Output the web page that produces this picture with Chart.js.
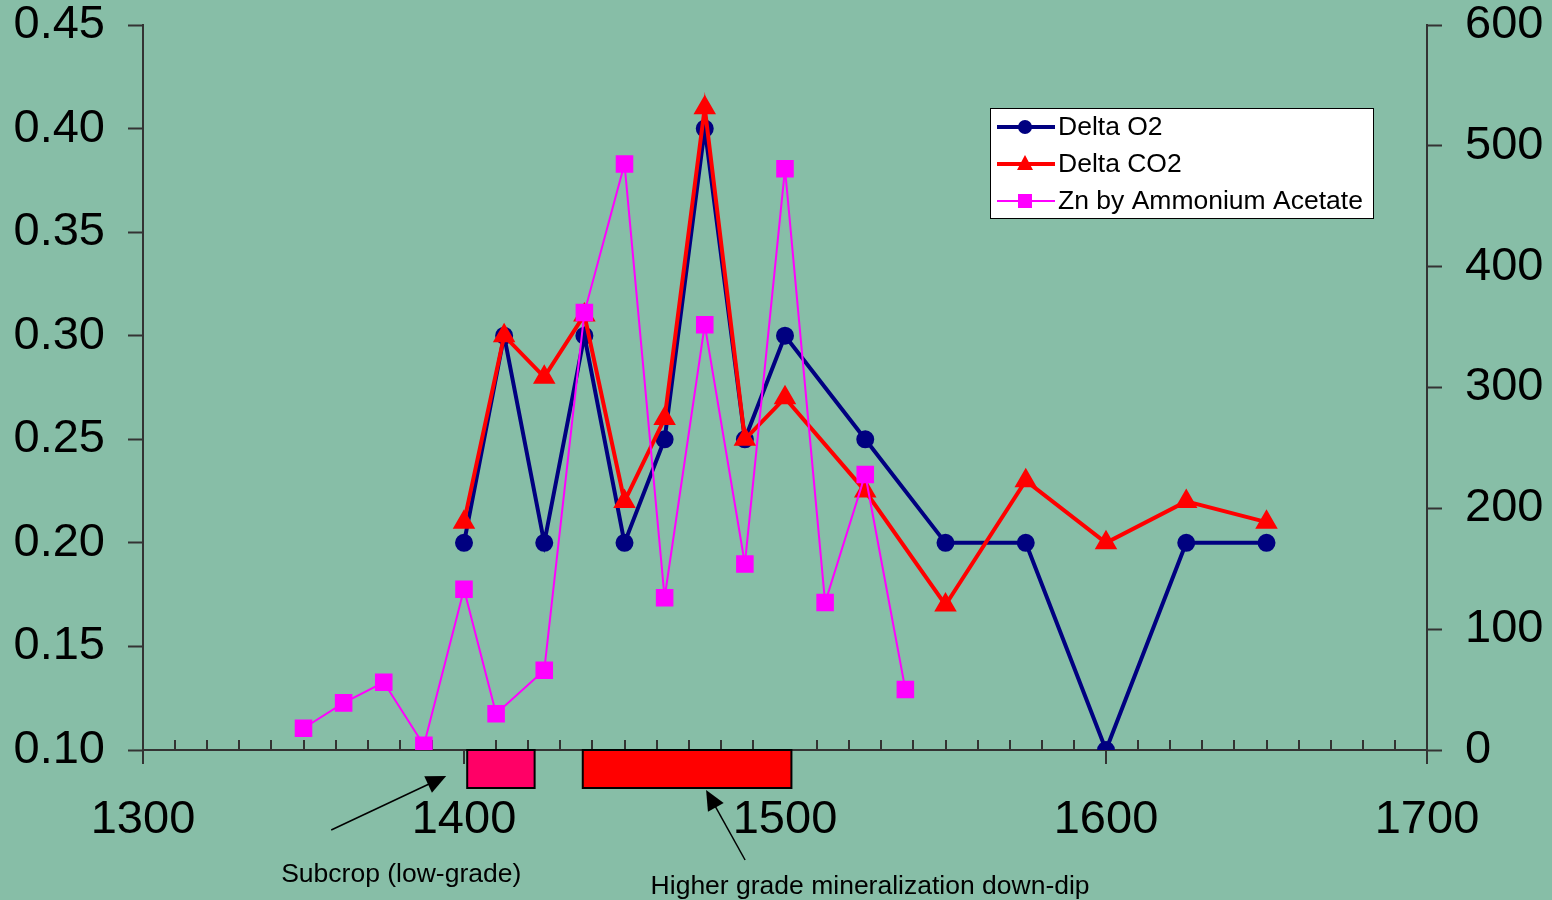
<!DOCTYPE html>
<html>
<head>
<meta charset="utf-8">
<script src="https://cdn.jsdelivr.net/npm/chart.js@4.4.1/dist/chart.umd.min.js"></script>
<style>
  html, body { margin: 0; padding: 0; background: #87bea7; }
  canvas { display: block; }
</style>
</head>
<body>
<canvas id="chart" width="1552" height="900"></canvas>
<script>
// sample depths and readings
const depthGas = [1400, 1412.5, 1425, 1437.5, 1450, 1462.5, 1475, 1487.5, 1500, 1525, 1550, 1575, 1600, 1625, 1650]
const deltaO2 = [0.20, 0.30, 0.20, 0.30, 0.20, 0.25, 0.40, 0.25, 0.30, 0.25, 0.20, 0.20, 0.10, 0.20, 0.20]
const deltaCO2 = [0.21, 0.30, 0.28, 0.31, 0.22, 0.26, 0.41, 0.25, 0.27, 0.225, 0.17, 0.23, 0.20, 0.22, 0.21]

const depthZn = [1350, 1362.5, 1375, 1387.5, 1400, 1410, 1425, 1437.5, 1450, 1462.5, 1475, 1487.5, 1500, 1512.5, 1525, 1537.5]
const znAmmAcetate = [18, 39, 56, 4, 133, 30, 66, 362, 485, 126, 352, 154, 481, 122, 228, 50]

// zones along the traverse (x ranges) and their notes
const zoneNames = ["Subcrop (low-grade)", "Higher grade mineralization down-dip"]
const zoneStart = [1401, 1437]
const zoneEnd = [1422, 1502]

const AXIS = "#333333"
const FONT = "'Liberation Sans', Arial, sans-serif"

const pts = (xs, ys) => xs.map((x, i) => ({ x, y: ys[i] }))

const xTicksPlugin = {
  id: "xTicks",
  beforeDatasetsDraw(chart) {
    const { ctx } = chart
    const x = chart.scales.x
    const bottom = chart.chartArea.bottom
    ctx.save()
    ctx.strokeStyle = AXIS
    ctx.lineWidth = 2
    x.ticks.forEach(t => {
      const px = Math.round(x.getPixelForValue(t.value))
      ctx.beginPath()
      if (t.value % 100 === 0) {
        ctx.moveTo(px, bottom)
        ctx.lineTo(px, bottom + 14)
      } else {
        ctx.moveTo(px, bottom)
        ctx.lineTo(px, bottom - 10)
      }
      ctx.stroke()
    })
    ctx.restore()
  }
}

function arrow(ctx, x1, y1, x2, y2) {
  const a = Math.atan2(y2 - y1, x2 - x1)
  const len = 20, half = 9
  ctx.beginPath()
  ctx.moveTo(x1, y1)
  ctx.lineTo(x2 - Math.cos(a) * len * 0.8, y2 - Math.sin(a) * len * 0.8)
  ctx.stroke()
  ctx.beginPath()
  ctx.moveTo(x2, y2)
  ctx.lineTo(x2 - Math.cos(a) * len - Math.sin(a) * half, y2 - Math.sin(a) * len + Math.cos(a) * half)
  ctx.lineTo(x2 - Math.cos(a) * len + Math.sin(a) * half, y2 - Math.sin(a) * len - Math.cos(a) * half)
  ctx.closePath()
  ctx.fill()
}

const zonesPlugin = {
  id: "zones",
  afterDraw(chart) {
    const { ctx } = chart
    const x = chart.scales.x
    const bottom = chart.chartArea.bottom
    const fills = ["#ff0066", "#ff0000"]
    ctx.save()
    zoneStart.forEach((s, i) => {
      const l = x.getPixelForValue(s), r = x.getPixelForValue(zoneEnd[i])
      ctx.fillStyle = fills[i]
      ctx.fillRect(l, bottom, r - l, 38)
      ctx.strokeStyle = "#000"
      ctx.lineWidth = 2
      ctx.strokeRect(l, bottom, r - l, 38)
    })
    ctx.fillStyle = "#000"
    ctx.strokeStyle = "#000"
    ctx.lineWidth = 1.5
    // arrows from each note up to its zone
    const s0 = x.getPixelForValue(zoneStart[0])
    arrow(ctx, s0 - 136, bottom + 80, s0 - 21, bottom + 26)
    const s1 = x.getPixelForValue((zoneStart[1] + zoneEnd[1]) / 2)
    arrow(ctx, s1 + 58, bottom + 110, s1 + 19, bottom + 40)
    ctx.font = "26.5px " + FONT
    ctx.textAlign = "center"
    ctx.textBaseline = "middle"
    ctx.fillText(zoneNames[0], s0 - 66, bottom + 125)
    ctx.fillText(zoneNames[1], s1 + 183, bottom + 137)
    ctx.restore()
  }
}

const legendPlugin = {
  id: "boxLegend",
  afterDraw(chart) {
    const { ctx } = chart
    const left = 990, top = 108, w = 383, h = 110
    ctx.save()
    ctx.fillStyle = "#fff"
    ctx.fillRect(left, top, w, h)
    ctx.strokeStyle = "#000"
    ctx.lineWidth = 1
    ctx.strokeRect(left + 0.5, top + 0.5, w, h)
    ctx.font = "26.5px " + FONT
    ctx.textBaseline = "middle"
    chart.data.datasets.forEach((ds, i) => {
      const y = top + 19 + i * 37
      ctx.strokeStyle = ds.borderColor
      ctx.lineWidth = ds.borderWidth
      ctx.beginPath()
      ctx.moveTo(left + 7, y)
      ctx.lineTo(left + 65, y)
      ctx.stroke()
      ctx.fillStyle = ds.borderColor
      const cx = left + 35
      if (ds.pointStyle === "circle") {
        ctx.beginPath()
        ctx.arc(cx, y, 7, 0, Math.PI * 2)
        ctx.fill()
      } else if (ds.pointStyle === "triangle") {
        ctx.beginPath()
        ctx.moveTo(cx, y - 9)
        ctx.lineTo(cx + 8, y + 6)
        ctx.lineTo(cx - 8, y + 6)
        ctx.closePath()
        ctx.fill()
      } else {
        ctx.fillRect(cx - 7, y - 7, 14, 14)
      }
      ctx.fillStyle = "#000"
      ctx.fillText(ds.label, left + 68, y + 1)
    })
    ctx.restore()
  }
}

// fixed axis widths, and only 25px headroom above the plot
const fitY = w => s => {
  s.width = w
  s.paddingTop = 25
  s.paddingBottom = 0
}

new Chart(document.getElementById("chart"), {
  type: "line",
  data: {
    datasets: [
      {
        label: "Delta O2",
        data: pts(depthGas, deltaO2),
        yAxisID: "y",
        borderColor: "#000080",
        backgroundColor: "#000080",
        borderWidth: 4,
        pointStyle: "circle",
        pointRadius: 7,
        order: 2
      },
      {
        label: "Delta CO2",
        data: pts(depthGas, deltaCO2),
        yAxisID: "y",
        borderColor: "#ff0000",
        backgroundColor: "#ff0000",
        borderWidth: 4,
        pointStyle: "triangle",
        pointRadius: 9,
        order: 1
      },
      {
        label: "Zn by Ammonium Acetate",
        data: pts(depthZn, znAmmAcetate),
        yAxisID: "y1",
        borderColor: "#ff00ff",
        backgroundColor: "#ff00ff",
        borderWidth: 2,
        pointStyle: "rect",
        pointRadius: 11,
        order: 0
      }
    ]
  },
  options: {
    responsive: false,
    animation: false,
    layout: { padding: 0 },
    elements: { line: { tension: 0 }, point: { borderWidth: 0 } },
    scales: {
      x: {
        type: "linear",
        min: 1300,
        max: 1700,
        afterFit: s => { s.height = 150 },
        border: { display: true, color: AXIS, width: 2 },
        grid: { drawOnChartArea: false, drawTicks: false },
        ticks: {
          stepSize: 10,
          autoSkip: false,
          maxRotation: 0,
          padding: 42,
          color: "#000",
          font: { family: FONT, size: 47 },
          callback: v => (v % 100 === 0 ? String(v) : "")
        }
      },
      y: {
        position: "left",
        min: 0.10,
        max: 0.45,
        afterFit: fitY(143),
        border: { display: true, color: AXIS, width: 2 },
        grid: { drawOnChartArea: false, drawTicks: true, tickLength: 15, tickColor: AXIS, tickWidth: 2 },
        ticks: {
          stepSize: 0.05,
          padding: 23,
          color: "#000",
          font: { family: FONT, size: 47 },
          callback: v => v.toFixed(2)
        }
      },
      y1: {
        position: "right",
        min: 0,
        max: 600,
        afterFit: fitY(125),
        border: { display: true, color: AXIS, width: 2 },
        grid: { drawOnChartArea: false, drawTicks: true, tickLength: 15, tickColor: AXIS, tickWidth: 2 },
        ticks: {
          stepSize: 100,
          padding: 23,
          color: "#000",
          font: { family: FONT, size: 47 }
        }
      }
    },
    plugins: {
      legend: { display: false },
      tooltip: { enabled: false }
    }
  },
  plugins: [xTicksPlugin, zonesPlugin, legendPlugin]
})
</script>
</body>
</html>
